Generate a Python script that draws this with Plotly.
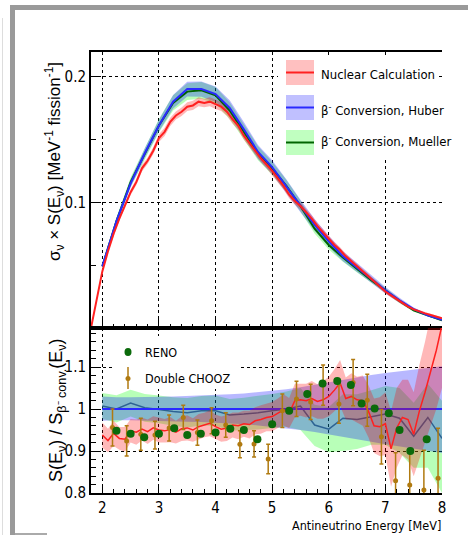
import plotly.graph_objects as go

W, H = 468, 535

# ---------------- data ----------------
# Upper panel: spectra (sigma x S) in MeV^-1 fission^-1
E_nuc = [1.8, 1.9, 2.0, 2.1, 2.2, 2.3, 2.4, 2.5, 2.6, 2.7, 2.8, 2.9, 3.0, 3.1, 3.2, 3.3,
         3.4, 3.5, 3.6, 3.7, 3.8, 3.9, 4.0, 4.1, 4.2, 4.3, 4.4, 4.5, 4.6, 4.7, 4.8, 4.9,
         5.0, 5.1, 5.2, 5.3, 5.4, 5.5, 5.6, 5.7, 5.8, 5.9, 6.0, 6.1, 6.2, 6.3, 6.4, 6.5,
         6.6, 6.7, 6.8, 6.9, 7.0, 7.1, 7.2, 7.3, 7.4, 7.5, 7.6, 7.7, 7.8, 7.9, 8.0]
S_nuc = [0.000, 0.024, 0.045, 0.061, 0.075, 0.087, 0.097, 0.108, 0.116, 0.127, 0.133, 0.141,
         0.151, 0.156, 0.164, 0.169, 0.172, 0.176, 0.177, 0.180, 0.179, 0.180, 0.178, 0.176,
         0.172, 0.166, 0.161, 0.153, 0.147, 0.141, 0.135, 0.130, 0.125, 0.119, 0.113, 0.106,
         0.101, 0.097, 0.092, 0.087, 0.081, 0.076, 0.071, 0.066, 0.062, 0.057, 0.053, 0.049,
         0.045, 0.041, 0.037, 0.033, 0.029, 0.026, 0.023, 0.020, 0.017, 0.0148, 0.0130,
         0.0116, 0.0103, 0.0090, 0.0078]
S_nuc_err = [0.02] * 3 + [0.020, 0.021, 0.020, 0.019, 0.020, 0.021, 0.020, 0.019, 0.020,
             0.020, 0.021, 0.020, 0.019, 0.020, 0.020, 0.021, 0.020, 0.019, 0.020, 0.021,
             0.020, 0.020, 0.021, 0.022, 0.021, 0.022, 0.023, 0.022, 0.023, 0.024, 0.025,
             0.025, 0.026, 0.027, 0.028, 0.028, 0.030, 0.031, 0.032, 0.034, 0.035, 0.037,
             0.039, 0.041, 0.043, 0.046, 0.049, 0.052, 0.056, 0.060, 0.064, 0.068, 0.072,
             0.076, 0.080, 0.085, 0.090, 0.095, 0.100, 0.105]

E_conv = [2.0, 2.25, 2.5, 2.75, 3.0, 3.25, 3.5, 3.75, 4.0, 4.25, 4.5, 4.75, 5.0, 5.25,
          5.5, 5.75, 6.0, 6.25, 6.5, 6.75, 7.0, 7.25, 7.5, 7.75, 8.0]
S_huber = [0.049, 0.085, 0.115, 0.139, 0.161, 0.180, 0.190, 0.190, 0.186, 0.175, 0.158,
           0.140, 0.128, 0.113, 0.097, 0.082, 0.069, 0.057, 0.048, 0.039, 0.030, 0.022,
           0.015, 0.010, 0.0066]
S_huber_err = [0.030, 0.028, 0.028, 0.028, 0.029, 0.030, 0.031, 0.032, 0.033, 0.035,
               0.037, 0.040, 0.043, 0.047, 0.052, 0.058, 0.064, 0.070, 0.076, 0.081,
               0.086, 0.090, 0.093, 0.097, 0.100]
S_mueller = [0.049, 0.085, 0.116, 0.139, 0.161, 0.179, 0.188, 0.189, 0.185, 0.173, 0.156,
             0.139, 0.127, 0.113, 0.097, 0.079, 0.066, 0.056, 0.047, 0.038, 0.030, 0.0215,
             0.014, 0.0098, 0.0061]
S_mueller_err = [0.031, 0.033, 0.032, 0.033, 0.033, 0.034, 0.035, 0.035, 0.036, 0.038,
                 0.039, 0.040, 0.041, 0.043, 0.045, 0.049, 0.055, 0.060, 0.062, 0.065,
                 0.068, 0.075, 0.080, 0.090, 0.100]

# Lower panel: ratios to Huber
E_ratio = [2.0, 2.1, 2.2, 2.3, 2.4, 2.5, 2.6, 2.7, 2.8, 2.9, 3.0, 3.1, 3.2, 3.3, 3.4, 3.5,
           3.6, 3.7, 3.8, 3.9, 4.0, 4.1, 4.2, 4.3, 4.4, 4.5, 4.6, 4.7, 4.8, 4.9, 5.0, 5.1,
           5.2, 5.3, 5.4, 5.5, 5.6, 5.7, 5.8, 5.9, 6.0, 6.1, 6.2, 6.3, 6.4, 6.5, 6.6, 6.7,
           6.8, 6.9, 7.0, 7.1, 7.2, 7.3, 7.4, 7.5, 7.6, 7.7, 7.8, 7.9, 8.0]
R_nuc = [0.938, 0.925, 0.942, 0.930, 0.928, 0.948, 0.945, 0.952, 0.946, 0.955, 0.950,
         0.948, 0.951, 0.945, 0.953, 0.955, 0.950, 0.958, 0.962, 0.966, 0.958, 0.952,
         0.955, 0.962, 0.960, 0.965, 0.963, 0.972, 0.975, 0.980, 0.982, 0.990, 0.998,
         0.990, 1.020, 1.022, 1.020, 1.025, 1.018, 1.022, 1.030, 1.045, 1.062, 1.025,
         1.030, 1.022, 1.020, 0.995, 0.960, 0.958, 0.965, 0.905, 0.955, 0.980, 0.975,
         0.940, 0.995, 1.040, 1.090, 1.140, 1.200]
R_nuc_err = [0.030, 0.028, 0.030, 0.027, 0.029, 0.028, 0.030, 0.027, 0.029, 0.028, 0.030,
             0.028, 0.030, 0.027, 0.029, 0.030, 0.028, 0.030, 0.029, 0.031, 0.029,
             0.030, 0.031, 0.030, 0.032, 0.031, 0.033, 0.032, 0.034, 0.033, 0.035,
             0.035, 0.037, 0.036, 0.040, 0.038, 0.040, 0.042, 0.041, 0.045, 0.047,
             0.050, 0.055, 0.050, 0.055, 0.055, 0.060, 0.062, 0.065, 0.070, 0.075,
             0.090, 0.095, 0.090, 0.095, 0.100, 0.110, 0.120, 0.130, 0.140, 0.150]
R_huber_hi = [1.030, 1.028, 1.028, 1.028, 1.029, 1.030, 1.031, 1.032, 1.033, 1.035, 1.037,
              1.040, 1.043, 1.047, 1.052, 1.058, 1.064, 1.070, 1.076, 1.081, 1.086, 1.090,
              1.093, 1.097, 1.102]
R_huber_lo = [0.972, 0.973, 0.973, 0.973, 0.972, 0.971, 0.970, 0.969, 0.968, 0.966, 0.964,
              0.961, 0.958, 0.954, 0.950, 0.945, 0.940, 0.934, 0.928, 0.922, 0.916, 0.910,
              0.905, 0.900, 0.895]
R_mueller = [1.007, 1.000, 1.014, 1.003, 0.999, 0.994, 0.991, 0.996, 0.996, 0.986, 0.988,
             0.991, 0.996, 1.000, 1.007, 0.962, 0.952, 0.978, 0.975, 0.982, 0.988, 0.978,
             0.935, 0.980, 0.930]
R_mueller_hi = [1.038, 1.033, 1.046, 1.036, 1.032, 1.028, 1.026, 1.031, 1.032, 1.024, 1.027,
                1.031, 1.036, 1.042, 1.050, 1.010, 1.005, 1.035, 1.035, 1.045, 1.055, 1.050,
                1.015, 1.060, 1.020]
R_mueller_lo = [0.976, 0.968, 0.982, 0.970, 0.966, 0.960, 0.956, 0.961, 0.960, 0.948, 0.950,
                0.951, 0.955, 0.957, 0.950, 0.912, 0.897, 0.900, 0.905, 0.915, 0.915, 0.895,
                0.860, 0.860, 0.800]

E_reno = [2.25, 2.5, 2.74, 3.0, 3.27, 3.5, 3.74, 4.0, 4.26, 4.5, 4.74, 5.0, 5.3, 5.62,
          5.89, 6.15, 6.39, 6.58, 6.81, 7.06, 7.25, 7.44, 7.73]
R_reno = [0.948, 0.941, 0.933, 0.941, 0.954, 0.938, 0.941, 0.944, 0.953, 0.950, 0.928,
          0.964, 0.996, 1.036, 1.061, 1.067, 1.057, 1.013, 1.001, 0.990, 0.950, 0.900, 0.928]

E_dc = [2.18, 2.43, 2.68, 2.93, 3.18, 3.43, 3.68, 3.93, 4.18, 4.43, 4.68, 4.93, 5.18, 5.43,
        5.68, 5.90, 6.18, 6.43, 6.68, 6.93, 7.18, 7.43, 7.68, 7.93]
R_dc = [0.956, 0.924, 0.940, 0.938, 0.955, 0.980, 0.944, 0.972, 0.962, 0.916, 0.917, 0.881,
        0.996, 1.024, 1.017, 1.057, 1.012, 1.063, 1.021, 0.934, 0.829, 0.819, 0.807, 0.835]
R_dc_err = [0.044, 0.036, 0.038, 0.033, 0.031, 0.029, 0.030, 0.031, 0.029, 0.032, 0.031,
            0.035, 0.040, 0.042, 0.042, 0.048, 0.046, 0.055, 0.062, 0.065, 0.067, 0.079,
            0.095, 0.119]

FONT = "Liberation Sans Narrow, DejaVu Sans Condensed, Arial Narrow, sans-serif"
FONT_R = "Liberation Sans, Arial, sans-serif"

RED = "#ff2020"
BLUE = "#2a2aff"
DGREEN = "#006400"
RATIO_GREEN = "#3f8a6a"
GOLD = "#b07a10"
RENO_C = "#0b6a0b"


def band(x, lo, hi, color, xa, ya):
    return go.Scatter(x=list(x) + list(x)[::-1], y=list(hi) + list(lo)[::-1],
                      fill="toself", fillcolor=color, line=dict(width=0),
                      mode="lines", hoverinfo="skip", showlegend=False,
                      xaxis=xa, yaxis=ya)


def line(x, y, color, width, xa, ya):
    return go.Scatter(x=x, y=y, mode="lines", line=dict(color=color, width=width),
                      showlegend=False, xaxis=xa, yaxis=ya)


fig = go.Figure()

# Upper panel
fig.add_trace(band(E_conv, [v * (1 - e) for v, e in zip(S_mueller, S_mueller_err)],
                   [v * (1 + e) for v, e in zip(S_mueller, S_mueller_err)],
                   "rgba(0,255,0,0.28)", "x", "y"))
fig.add_trace(band(E_conv, [v * (1 - e) for v, e in zip(S_huber, S_huber_err)],
                   [v * (1 + e) for v, e in zip(S_huber, S_huber_err)],
                   "rgba(0,0,255,0.28)", "x", "y"))
fig.add_trace(band(E_nuc, [v * (1 - e) for v, e in zip(S_nuc, S_nuc_err)],
                   [v * (1 + e) for v, e in zip(S_nuc, S_nuc_err)],
                   "rgba(255,0,0,0.28)", "x", "y"))
fig.add_trace(line(E_conv, S_mueller, DGREEN, 2, "x", "y"))
fig.add_trace(line(E_conv, S_huber, BLUE, 2, "x", "y"))
fig.add_trace(line(E_nuc, S_nuc, RED, 2, "x", "y"))

# Lower panel
fig.add_trace(band(E_conv, R_mueller_lo, R_mueller_hi, "rgba(0,255,0,0.28)", "x2", "y2"))
fig.add_trace(line(E_conv, R_mueller, RATIO_GREEN, 1.5, "x2", "y2"))
fig.add_trace(band(E_conv, R_huber_lo, R_huber_hi, "rgba(0,0,255,0.28)", "x2", "y2"))
fig.add_trace(line(E_conv, [1.0] * len(E_conv), BLUE, 2, "x2", "y2"))
fig.add_trace(band(E_ratio, [v - e for v, e in zip(R_nuc, R_nuc_err)],
                   [v + e for v, e in zip(R_nuc, R_nuc_err)],
                   "rgba(255,0,0,0.28)", "x2", "y2"))
fig.add_trace(line(E_ratio, R_nuc, RED, 1.5, "x2", "y2"))
fig.add_trace(go.Scatter(x=E_dc, y=R_dc, mode="markers",
                         marker=dict(color=GOLD, size=5, symbol="circle"),
                         error_y=dict(type="data", array=R_dc_err, color=GOLD,
                                      thickness=1.5, width=2),
                         showlegend=False, xaxis="x2", yaxis="y2"))
fig.add_trace(go.Scatter(x=E_reno, y=R_reno, mode="markers",
                         marker=dict(color=RENO_C, size=8, symbol="circle"),
                         showlegend=False, xaxis="x2", yaxis="y2"))


def px(x):
    return x / W


def py(y):
    return 1 - y / H


XD = [px(91), px(442)]
axis_common = dict(showline=True, linecolor="black", linewidth=2, zeroline=False,
                   showgrid=True, gridcolor="black", gridwidth=1, griddash="dot",
                   ticks="inside", tickcolor="black", automargin=False,
                   tickfont=dict(family=FONT, size=15, color="black"))

fig.update_layout(
    width=W, height=H, margin=dict(l=0, r=0, t=0, b=0),
    paper_bgcolor="white", plot_bgcolor="white", showlegend=False,
    xaxis=dict(domain=XD, anchor="y", range=[1.8, 8.0], tickvals=[2, 3, 4, 5, 6, 7, 8],
               showticklabels=False, ticklen=9, mirror=True,
               minor=dict(dtick=0.2, tick0=2, ticklen=4, ticks="inside", tickcolor="black",
                          showgrid=False),
               **axis_common),
    yaxis=dict(domain=[py(328), py(52)], anchor="x", range=[0, 0.2195],
               tickvals=[0.1, 0.2], ticktext=["0.1", "0.2"], ticklen=10,
               minor=dict(tickvals=[0.05, 0.15], ticklen=5, ticks="inside",
                          tickcolor="black", showgrid=False),
               **axis_common),
    xaxis2=dict(domain=XD, anchor="y2", range=[1.8, 8.0], matches="x",
                tickvals=[2, 3, 4, 5, 6, 7, 8], ticktext=["2", "3", "4", "5", "6", "7", "8"],
                ticklen=9, mirror=True,
                minor=dict(dtick=0.2, tick0=2, ticklen=4, ticks="inside", tickcolor="black",
                           showgrid=False),
                **axis_common),
    yaxis2=dict(domain=[py(493), py(328)], anchor="x2", range=[0.8, 1.193],
                tickvals=[0.8, 0.9, 1.0, 1.1], ticktext=["0.8", "0.9", "1", "1.1"],
                ticklen=10,
                minor=dict(dtick=0.02, tick0=0.8, ticklen=5, ticks="inside",
                           tickcolor="black", showgrid=False),
                **axis_common),
)

shapes = []
annotations = []

# outer gray frame (canvas border)
shapes.append(dict(type="rect", xref="paper", yref="paper", x0=px(10), x1=px(15),
                   y0=py(535), y1=py(5), fillcolor="#9a9a9a", line=dict(width=0),
                   layer="above"))
shapes.append(dict(type="rect", xref="paper", yref="paper", x0=px(10), x1=px(468),
                   y0=py(10), y1=py(5), fillcolor="#9a9a9a", line=dict(width=0),
                   layer="above"))
shapes.append(dict(type="line", xref="paper", yref="paper", x0=px(2.5), x1=px(2.5),
                   y0=py(535), y1=py(18), line=dict(color="#dddddd", width=1),
                   layer="above"))
shapes.append(dict(type="line", xref="paper", yref="paper", x0=px(15), x1=px(47),
                   y0=py(534), y1=py(534), line=dict(color="#aaaaaa", width=2),
                   layer="above"))

# upper legend (white box hides the grid behind it)
shapes.append(dict(type="rect", xref="paper", yref="paper", x0=px(278), x1=px(438),
                   y0=py(158), y1=py(55), fillcolor="white", line=dict(width=0),
                   layer="above"))
leg_items = [("Nuclear Calculation", "#ffc0c0", RED, 72.5, 74),
             ("β<sup>-</sup> Conversion, Huber", "#c0c0ff", BLUE, 107.5, 110),
             ("β<sup>-</sup> Conversion, Mueller", "#c0ffc0", DGREEN, 142.5, 141)]
for text, fc, lc, yc, ty in leg_items:
    shapes.append(dict(type="rect", xref="paper", yref="paper", x0=px(286), x1=px(314),
                       y0=py(yc + 12.5), y1=py(yc - 12.5), fillcolor=fc,
                       line=dict(width=0), layer="above"))
    shapes.append(dict(type="line", xref="paper", yref="paper", x0=px(286), x1=px(314),
                       y0=py(yc), y1=py(yc), line=dict(color=lc, width=2), layer="above"))
    annotations.append(dict(xref="paper", yref="paper", x=px(319), y=py(ty), text=text,
                            showarrow=False, xanchor="left", yanchor="middle",
                            font=dict(family=FONT, size=13, color="black")))

# lower legend
shapes.append(dict(type="rect", xref="paper", yref="paper", x0=px(113), x1=px(238),
                   y0=py(389), y1=py(336), fillcolor="white", line=dict(width=0),
                   layer="above"))
shapes.append(dict(type="circle", xref="paper", yref="paper", x0=px(124.5), x1=px(131.5),
                   y0=py(356), y1=py(348), fillcolor=RENO_C, line=dict(width=0),
                   layer="above"))
shapes.append(dict(type="line", xref="paper", yref="paper", x0=px(128), x1=px(128),
                   y0=py(389), y1=py(367), line=dict(color=GOLD, width=1.5), layer="above"))
shapes.append(dict(type="circle", xref="paper", yref="paper", x0=px(125.5), x1=px(130.5),
                   y0=py(381), y1=py(376), fillcolor=GOLD, line=dict(width=0),
                   layer="above"))
annotations.append(dict(xref="paper", yref="paper", x=px(143), y=py(352), text="RENO",
                        showarrow=False, xanchor="left", yanchor="middle",
                        font=dict(family=FONT, size=12.5, color="black")))
annotations.append(dict(xref="paper", yref="paper", x=px(143), y=py(378),
                        text="Double CHOOZ", showarrow=False, xanchor="left",
                        yanchor="middle", font=dict(family=FONT, size=12.5, color="black")))

# axis titles
annotations.append(dict(xref="paper", yref="paper", x=px(54), y=py(162),
                        text="σ<sub>ν</sub> × S(E<sub>ν</sub>) [MeV<sup>-1</sup> fission<sup>-1</sup>]",
                        textangle=-90, showarrow=False, xanchor="center", yanchor="middle",
                        font=dict(family=FONT_R, size=17, color="black")))
annotations.append(dict(xref="paper", yref="paper", x=px(57), y=py(410),
                        text="S(E<sub>ν</sub>) / S<sub>β⁻ conv.</sub>(E<sub>ν</sub>)",
                        textangle=-90, showarrow=False, xanchor="center", yanchor="middle",
                        font=dict(family=FONT_R, size=18, color="black")))
annotations.append(dict(xref="paper", yref="paper", x=px(443), y=py(525),
                        text="Antineutrino Energy [MeV]", showarrow=False,
                        xanchor="right", yanchor="middle",
                        font=dict(family=FONT, size=12.5, color="black")))

fig.update_layout(shapes=shapes, annotations=annotations)
fig.write_html("out.html")
